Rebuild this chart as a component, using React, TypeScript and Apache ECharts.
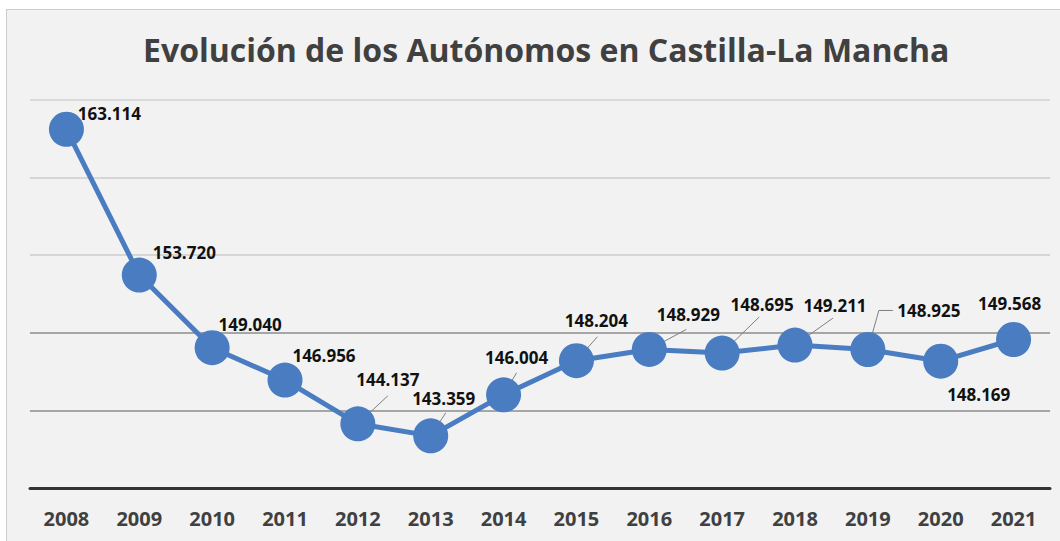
import React, { useEffect, useRef } from "react";
import * as echarts from "echarts";

const titleText = "Evolución de los Autónomos en Castilla-La Mancha";
const years = ["2008", "2009", "2010", "2011", "2012", "2013", "2014", "2015", "2016", "2017", "2018", "2019", "2020", "2021"];
const autonomos = [163114, 153720, 149040, 146956, 144137, 143359, 146004, 148204, 148929, 148695, 149211, 148925, 148169, 149568];

// label centre offsets from each point (px)
const labelOffsets: [number, number][] = [
  [43, -16], [45, -23], [38, -23], [39, -25], [30, -44], [13, -37], [13, -37],
  [20, -40], [39, -35], [40, -49], [40, -40], [61, -39], [38, 33], [-4, -36],
];
// leader line points (offsets from each point), null = none
const leaderLines: ([number, number][] | null)[] = [
  null, null, null, null,
  [[0, 0], [30, -28]],
  [[0, 0], [15, -23]],
  [[0, 0], [13, -22]],
  [[0, 0], [21, -24]],
  [[0, 0], [37, -20]],
  [[0, 0], [37, -36]],
  [[0, 0], [38, -27]],
  [[0, 0], [11, -39], [25, -39]],
  null,
  null,
];

const fmt = (v: number) => String(v).replace(/\B(?=(\d{3})+(?!\d))/g, ".");

export default function App() {
  const ref = useRef<HTMLDivElement>(null);
  useEffect(() => {
    const chart = echarts.init(ref.current!, null, { renderer: "svg" });
    const font = "'Open Sans', 'Noto Sans', sans-serif";
    chart.setOption({
      animation: false,
      backgroundColor: "transparent",
      title: {
        text: titleText,
        left: 138,
        top: 28,
        textStyle: { fontFamily: font, fontSize: 32, fontWeight: "bold", color: "#404040" },
      },
      grid: { left: 30, right: 10, top: 100, bottom: 53 },
      xAxis: {
        type: "category",
        data: years,
        boundaryGap: true,
        axisLine: { lineStyle: { color: "#333333", width: 3 } },
        axisTick: { show: false },
        axisLabel: { fontFamily: font, fontSize: 20, fontWeight: "bold", color: "#404040", margin: 20 },
      },
      yAxis: {
        type: "value",
        min: 140000,
        max: 165000,
        interval: 5000,
        axisLabel: { show: false },
        axisLine: { show: false },
        axisTick: { show: false },
        splitLine: {
          lineStyle: {
            color: ["#a6a6a6", "#a6a6a6", "#a6a6a6", "#d6d6d6", "#d6d6d6", "#dadada"],
            width: 2,
          },
        },
      },
      series: [
        {
          type: "custom",
          z: 1,
          silent: true,
          data: autonomos.map((v, i) => [i, v]),
          renderItem: (params: any, api: any) => {
            const i = params.dataIndex;
            const pts = leaderLines[i];
            if (!pts) return { type: "group", children: [] };
            const c = api.coord([api.value(0), api.value(1)]);
            return {
              type: "polyline",
              shape: { points: pts.map((p) => [c[0] + p[0], c[1] + p[1]]) },
              style: { stroke: "#7f7f7f", lineWidth: 1, fill: "none" },
            };
          },
        },
        {
          type: "line",
          z: 3,
          data: autonomos.map((v, i) => ({
            value: v,
            label: { offset: labelOffsets[i] },
          })),
          symbol: "circle",
          symbolSize: 35,
          lineStyle: { color: "#4a7cc2", width: 5 },
          itemStyle: { color: "#4a7cc2" },
          label: {
            show: true,
            position: "inside",
            formatter: (p: any) => fmt(p.value),
            fontFamily: font,
            fontSize: 17,
            fontWeight: "bold",
            color: "#111111",
          },
        },
      ],
    });
    return () => chart.dispose();
  }, []);
  return (
    <div style={{ position: "fixed", left: 0, top: 0, width: 1060, height: 541, overflow: "hidden", background: "#ffffff" }}>
      <div
        style={{
          position: "absolute",
          left: 6,
          top: 9,
          width: 1100,
          height: 600,
          background: "#f2f2f2",
          border: "1px solid #cccccc",
        }}
      />
      <div ref={ref} style={{ position: "absolute", left: 0, top: 0, width: 1060, height: 541 }} />
    </div>
  );
}
